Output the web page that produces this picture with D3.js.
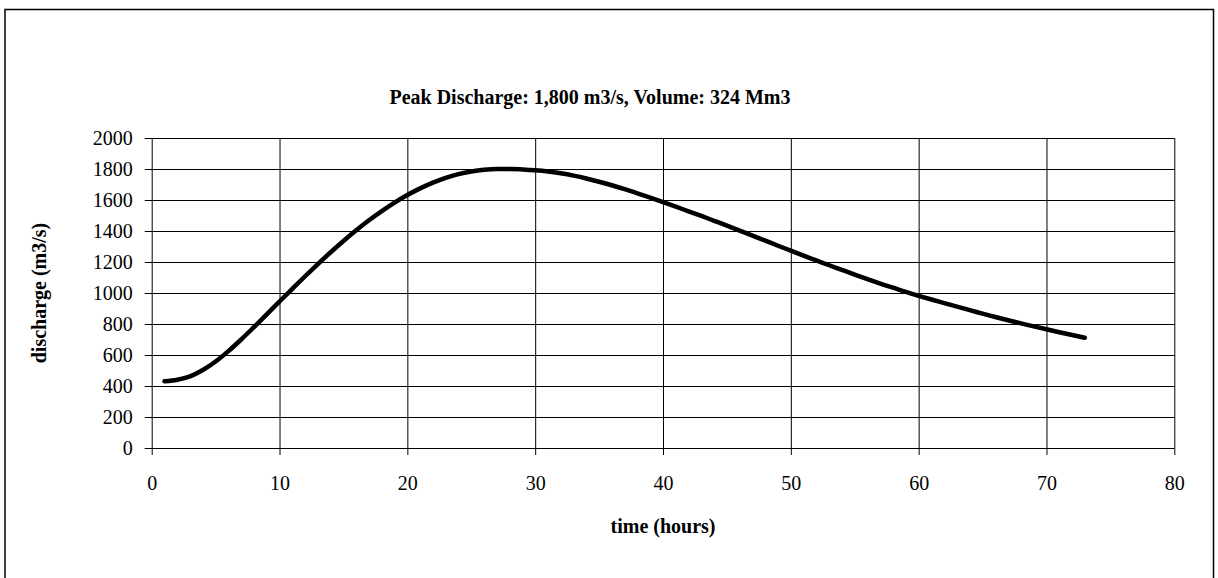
<!DOCTYPE html>
<html>
<head>
<meta charset="utf-8">
<script src="https://cdn.jsdelivr.net/npm/d3@7"></script>
<style>
  body { margin: 0; background: #fff; }
  text { font-family: "Liberation Serif", "Times New Roman", serif; fill: #000; }
</style>
</head>
<body>
<div id="chart"></div>
<script>
// hydrograph (hourly)
var hours = d3.range(1, 74);
var discharge = [
    430, 440, 462, 503, 558, 625, 700, 780, 862, 945,
    1027, 1108, 1187, 1263, 1336, 1405, 1469, 1528, 1583, 1632,
    1675, 1712, 1743, 1767, 1784, 1795, 1800, 1800, 1797, 1792,
    1784, 1772, 1757, 1739, 1718, 1695, 1670, 1643, 1615, 1586,
    1557, 1527, 1497, 1466, 1435, 1403, 1370, 1338, 1305, 1273,
    1241, 1210, 1179, 1149, 1119, 1090, 1061, 1034, 1007, 982,
    958, 935, 912, 889, 867, 845, 824, 804, 785, 766,
    747, 729, 711
];
var xTicks = [0, 10, 20, 30, 40, 50, 60, 70, 80];
var yTicks = [0, 200, 400, 600, 800, 1000, 1200, 1400, 1600, 1800, 2000];

var chartTitle = "Peak Discharge: 1,800 m3/s, Volume: 324 Mm3";
var xTitle = "time (hours)";
var yTitle = "discharge (m3/s)";

const [svgW, svgH] = [1218, 578];
const plot = {left: 151.7, right: 1174.3, top: 138, bottom: 448};
const tickLen = 7;

var svg = d3.select("#chart").append("svg")
    .attr("width", svgW).attr("height", svgH);

// outer frame
svg.append("rect")
    .attr("x", 5).attr("y", 9.5)
    .attr("width", 1208.5).attr("height", 580)
    .attr("fill", "none").attr("stroke", "#000").attr("stroke-width", 1.5);

var x = d3.scaleLinear().domain([0, 80]).range([plot.left, plot.right]);
var y = d3.scaleLinear().domain([0, 2000]).range([plot.bottom, plot.top]);

// y axis with full-width grid
var yAxis = svg.append("g")
    .attr("transform", "translate(" + plot.left + ",0)")
    .call(d3.axisLeft(y).tickValues(yTicks).tickFormat(d3.format("d"))
        .tickSizeInner(-(plot.right - plot.left)).tickSizeOuter(0).tickPadding(19));
yAxis.select(".domain").remove();
yAxis.selectAll(".tick line")
    .attr("x1", -tickLen).attr("stroke", "#000").attr("stroke-width", 1);
yAxis.selectAll(".tick text")
    .attr("font-size", 20).attr("font-family", "Liberation Serif");

// x axis with vertical grid
var xAxis = svg.append("g")
    .attr("transform", "translate(0," + plot.bottom + ")")
    .call(d3.axisBottom(x).tickValues(xTicks).tickFormat(d3.format("d"))
        .tickSizeInner(tickLen).tickSizeOuter(0).tickPadding(21));
xAxis.select(".domain").remove();
xAxis.selectAll(".tick line")
    .attr("y1", -(plot.bottom - plot.top)).attr("stroke", "#000").attr("stroke-width", 1);
xAxis.selectAll(".tick text")
    .attr("font-size", 20).attr("font-family", "Liberation Serif");

// the hydrograph
var line = d3.line()
    .x(function (d, i) { return x(hours[i]); })
    .y(function (d) { return y(d); })
    .curve(d3.curveMonotoneX);

svg.append("path")
    .datum(discharge)
    .attr("d", line)
    .attr("fill", "none")
    .attr("stroke", "#000")
    .attr("stroke-width", 4.5)
    .attr("stroke-linecap", "round")
    .attr("stroke-linejoin", "round");

// titles
svg.append("text")
    .attr("x", 590).attr("y", 104)
    .attr("text-anchor", "middle")
    .attr("font-size", 20).attr("font-weight", "bold")
    .text(chartTitle);

svg.append("text")
    .attr("x", (plot.left + plot.right) / 2).attr("y", 533)
    .attr("text-anchor", "middle")
    .attr("font-size", 20).attr("font-weight", "bold")
    .text(xTitle);

svg.append("text")
    .attr("transform", "translate(46," + ((plot.top + plot.bottom) / 2) + ") rotate(-90)")
    .attr("text-anchor", "middle")
    .attr("font-size", 20).attr("font-weight", "bold")
    .text(yTitle);
</script>
</body>
</html>
